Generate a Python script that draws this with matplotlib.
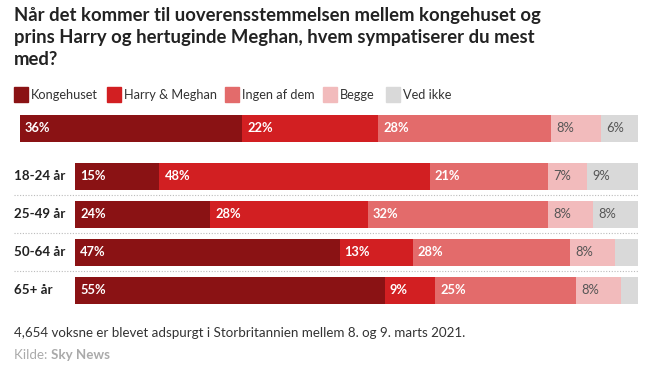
import matplotlib
matplotlib.use("Agg")
import matplotlib.pyplot as plt
from matplotlib.patches import Rectangle
import numpy as np

W, H = 651, 370
DPI = 100

title = "Når det kommer til uoverensstemmelsen mellem kongehuset og\nprins Harry og hertuginde Meghan, hvem sympatiserer du mest\nmed?"
categories = ["Kongehuset", "Harry & Meghan", "Ingen af dem", "Begge", "Ved ikke"]
colors = ["#8a1214", "#d21f22", "#e36b6b", "#f2bbbc", "#d9d9d9"]
label_colors = ["white", "white", "white", "#555555", "#555555"]

total_values = [36, 22, 28, 8, 6]
groups = ["18-24 år", "25-49 år", "50-64 år", "65+ år"]
group_values = {
    "Kongehuset":     [15, 24, 47, 55],
    "Harry & Meghan": [48, 28, 13, 9],
    "Ingen af dem":   [21, 32, 28, 25],
    "Begge":          [7, 8, 8, 8],
    "Ved ikke":       [9, 8, 4, 3],
}
note = "4,654 voksne er blevet adspurgt i Storbritannien mellem 8. og 9. marts 2021."
source_label = "Kilde: "
source_name = "Sky News"

plt.rcParams['font.family'] = ['Lato', 'DejaVu Sans']

fig = plt.figure(figsize=(W / DPI, H / DPI), dpi=DPI)

def fx(px):
    return px / W

def fy(py):
    return 1 - py / H

def px_axes(x0, x1, y0, y1):
    return fig.add_axes([fx(x0), fy(y1), fx(x1) - fx(x0), (y1 - y0) / H])

# Title
fig.text(fx(14), fy(7), title, ha="left", va="top", fontsize=13.35,
         fontweight="bold", color="#222222", linespacing=1.36)

# Legend
leg_sq = [14, 107, 225, 323, 386]
for cat, col, x in zip(categories, colors, leg_sq):
    fig.patches.append(Rectangle((fx(x), fy(102)), 14 / W, 15 / H,
                                 transform=fig.transFigure, color=col))
    fig.text(fx(x + 17), fy(95), cat, ha="left", va="center",
             fontsize=9.2, color="#333333")

def draw_stack(ax, vals_by_cat, n, height):
    lefts = np.zeros(n)
    for i, cat in enumerate(categories):
        vals = np.array(vals_by_cat[i], dtype=float)
        ax.barh(np.arange(n), vals, left=lefts, height=height,
                color=colors[i], edgecolor="none")
        for r in range(n):
            if vals[r] >= 5:
                ax.annotate(f"{int(vals[r])}%", (lefts[r], r),
                            xytext=(5, 0), textcoords="offset pixels",
                            ha="left", va="center", fontsize=9.3,
                            fontweight="bold" if i < 3 else "normal",
                            color=label_colors[i])
        lefts += vals
    ax.set_xlim(0, 100)
    ax.set_ylim(n - 0.5, -0.5)
    ax.axis("off")

# Total bar
ax_t = px_axes(20, 638, 108.5, 148.5)
draw_stack(ax_t, [[v] for v in total_values], 1, 27 / 40)

# Age group bars
ax_g = px_axes(75, 638, 157.5, 309.5)
draw_stack(ax_g, [group_values[c] for c in categories], len(groups), 27 / 38)

for r, g in enumerate(groups):
    y = 176.5 + 38 * r
    fig.text(fx(14), fy(y), g, ha="left", va="center", fontsize=9.6,
             fontweight="bold", color="#222222")

# dotted separators
for y in [195, 233, 271]:
    fig.add_artist(plt.Line2D([fx(14), fx(638)], [fy(y), fy(y)],
                              transform=fig.transFigure, color="#bbbbbb",
                              linewidth=0.8, linestyle=(0, (1, 1.5))))

# Footer
fig.text(fx(14), fy(333), note, ha="left", va="center", fontsize=9.6,
         color="#333333")
t = fig.text(fx(14), fy(355), source_label, ha="left", va="center",
             fontsize=9.6, color="#aaaaaa")
fig.canvas.draw()
bb = t.get_window_extent()
fig.text(bb.x1 / W, fy(355), source_name, ha="left", va="center",
         fontsize=9.6, color="#aaaaaa", fontweight="bold")

fig.savefig("out.png", dpi=DPI)
